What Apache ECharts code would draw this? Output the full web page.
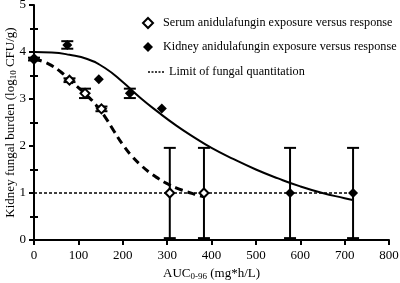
<!DOCTYPE html>
<html>
<head>
    <meta charset="utf-8">
    <script src="https://cdn.jsdelivr.net/npm/echarts@6/dist/echarts.min.js"></script>
</head>
<body style="margin:0;background:#fff;">
    <div id="main" style="width: 400px;height:283px;"></div>
    <script type="text/javascript">
        // observed points
        var serumAUC = [0, 80, 115, 152, 306, 383];
        var serumBurden = [3.85, 3.40, 3.12, 2.79, 1.0, 1.0];
        var serumErr = [0.03, 0.04, 0.1, 0.05, 0.96, 0.96];

        var kidneyAUC = [0, 75, 146, 216, 288, 577, 719];
        var kidneyBurden = [3.85, 4.15, 3.42, 3.12, 2.80, 1.0, 1.0];
        var kidneyErr = [0, 0.08, 0, 0.1, 0, 0.96, 0.96];

        // fitted curves
        var serumFitAUC = [0, 20, 40, 60, 80, 100, 120, 140, 160, 180, 200, 220, 240, 260, 280, 300, 320, 340, 360, 383];
        var serumFit = [3.85, 3.80, 3.71, 3.58, 3.41, 3.24, 3.07, 2.87, 2.62, 2.32, 2.03, 1.79, 1.60, 1.44, 1.31, 1.20, 1.11, 1.04, 0.98, 0.92];
        var kidneyFitAUC = [0, 40, 80, 120, 160, 200, 240, 280, 320, 360, 400, 450, 500, 550, 600, 650, 700, 718];
        var kidneyFit = [4.00, 3.99, 3.94, 3.85, 3.66, 3.36, 3.02, 2.72, 2.44, 2.19, 1.96, 1.72, 1.50, 1.31, 1.14, 1.00, 0.89, 0.85];

        var lloqAUC = [0, 719];
        var lloq = [1.0, 1.0];

        var xTicks = [0, 100, 200, 300, 400, 500, 600, 700, 800];

        var font = 'Liberation Serif';
        var serumName = 'Serum anidulafungin exposure versus response';
        var kidneyName = 'Kidney anidulafungin exposure versus response';
        var lloqName = 'Limit of fungal quantitation';
        var dottedIcon = 'path://M0,0h2v1.5h-2zM3.5,0h2v1.5h-2zM7,0h2v1.5h-2zM10.5,0h2v1.5h-2zM14,0h2v1.5h-2z';

        function pairs(xs, ys) {
            var res = [];
            for (var i = 0; i < xs.length; i++) res.push([xs[i], ys[i]]);
            return res;
        }
        function errs(xs, ys, es) {
            var res = [];
            for (var i = 0; i < xs.length; i++) {
                if (es[i] > 0) res.push([xs[i], ys[i] - es[i], ys[i] + es[i]]);
            }
            return res;
        }
        function renderErr(params, api) {
            var lo = api.coord([api.value(0), api.value(1)]);
            var hi = api.coord([api.value(0), api.value(2)]);
            var st = { stroke: '#000', lineWidth: 2 };
            return {
                type: 'group',
                children: [
                    { type: 'line', shape: { x1: lo[0], y1: lo[1], x2: hi[0], y2: hi[1] }, style: st },
                    { type: 'line', shape: { x1: hi[0] - 6, y1: hi[1], x2: hi[0] + 6, y2: hi[1] }, style: st },
                    { type: 'line', shape: { x1: lo[0] - 6, y1: lo[1], x2: lo[0] + 6, y2: lo[1] }, style: st }
                ]
            };
        }

        var myChart = echarts.init(document.getElementById('main'));
        var option = {
            backgroundColor: '#fff',
            animation: false,
            grid: { left: 34, right: 11, top: 5, bottom: 43, outerBoundsMode: 'none', containLabel: false },
            legend: [{
                data: [serumName, kidneyName],
                orient: 'vertical',
                left: 142,
                top: 17,
                padding: 0,
                itemWidth: 10,
                itemHeight: 10,
                itemGap: 12,
                textStyle: { fontFamily: font, fontSize: 12.2, color: '#000', lineHeight: 12, padding: [0, 0, 0, 5] }
            }, {
                data: [{ name: lloqName, icon: dottedIcon }],
                orient: 'vertical',
                left: 148,
                top: 66,
                padding: 0,
                itemWidth: 16,
                itemHeight: 1.5,
                symbolKeepAspect: true,
                textStyle: { fontFamily: font, fontSize: 12.2, color: '#000', lineHeight: 12 }
            }],
            xAxis: {
                type: 'value',
                min: 0,
                max: 800,
                interval: 100,
                name: '{a|AUC}{s|0-96}{a| (mg*h/L)}',
                nameLocation: 'middle',
                nameGap: 26,
                nameTextStyle: {
                    rich: {
                        a: { fontFamily: font, fontSize: 13, color: '#000' },
                        s: { fontFamily: font, fontSize: 9, color: '#000', verticalAlign: 'bottom', padding: [6, 0, 0, 0] }
                    }
                },
                axisLine: { lineStyle: { color: '#000', width: 2 } },
                axisTick: { length: 5, lineStyle: { color: '#000', width: 2 } },
                axisLabel: {
                    fontFamily: font, fontSize: 13, color: '#000', margin: 9,
                    customValues: xTicks
                },
                splitLine: { show: false }
            },
            yAxis: [{
                type: 'value',
                min: 0,
                max: 5,
                interval: 1,
                name: '{a|Kidney fungal burden (log}{s|10}{a| CFU/g)}',
                nameLocation: 'middle',
                nameGap: 16,
                nameMoveOverlap: false,
                nameTextStyle: {
                    rich: {
                        a: { fontFamily: font, fontSize: 13, color: '#000' },
                        s: { fontFamily: font, fontSize: 9, color: '#000', verticalAlign: 'bottom', padding: [6, 0, 0, 0] }
                    }
                },
                axisLine: { show: true, lineStyle: { color: '#000', width: 2 } },
                axisTick: { show: true, length: 5, lineStyle: { color: '#000', width: 2 } },
                minorTick: { show: true, splitNumber: 2, length: 4, lineStyle: { color: '#000', width: 2 } },
                axisLabel: { fontFamily: font, fontSize: 13, color: '#000', margin: 8 },
                splitLine: { show: false }
            }, {
                // inner half of the crossing minor ticks
                type: 'value',
                position: 'left',
                min: 0,
                max: 5,
                interval: 1,
                axisLine: { show: false },
                axisTick: { show: true, inside: true, length: 0, lineStyle: { color: '#000', width: 0 } },
                minorTick: { show: true, splitNumber: 2, length: 4, lineStyle: { color: '#000', width: 2 } },
                axisLabel: { show: false },
                splitLine: { show: false }
            }],
            series: [
                {
                    name: lloqName,
                    type: 'line',
                    data: pairs(lloqAUC, lloq),
                    symbol: 'none',
                    lineStyle: { color: '#000', width: 1.5, type: [3, 2] },
                    itemStyle: { color: '#000' },
                    z: 1
                },
                {
                    name: 'serumFit',
                    type: 'line',
                    data: pairs(serumFitAUC, serumFit),
                    symbol: 'none',
                    smooth: true,
                    lineStyle: { color: '#000', width: 3, type: [8, 5] },
                    z: 2
                },
                {
                    name: 'kidneyFit',
                    type: 'line',
                    data: pairs(kidneyFitAUC, kidneyFit),
                    symbol: 'none',
                    smooth: true,
                    lineStyle: { color: '#000', width: 2 },
                    z: 2
                },
                {
                    name: 'serumErr',
                    type: 'custom',
                    renderItem: renderErr,
                    data: errs(serumAUC, serumBurden, serumErr),
                    encode: { x: 0, y: [1, 2] },
                    z: 3
                },
                {
                    name: 'kidneyErr',
                    type: 'custom',
                    renderItem: renderErr,
                    data: errs(kidneyAUC, kidneyBurden, kidneyErr),
                    encode: { x: 0, y: [1, 2] },
                    z: 3
                },
                {
                    name: serumName,
                    type: 'scatter',
                    data: pairs(serumAUC, serumBurden),
                    symbol: 'diamond',
                    symbolSize: 9,
                    itemStyle: { color: '#fff', borderColor: '#000', borderWidth: 2, opacity: 1 },
                    z: 4
                },
                {
                    name: kidneyName,
                    type: 'scatter',
                    data: pairs(kidneyAUC, kidneyBurden),
                    symbol: 'diamond',
                    symbolSize: 10,
                    itemStyle: { color: '#000', opacity: 1 },
                    z: 5
                }
            ]
        };
        myChart.setOption(option);
    </script>
</body>
</html>
